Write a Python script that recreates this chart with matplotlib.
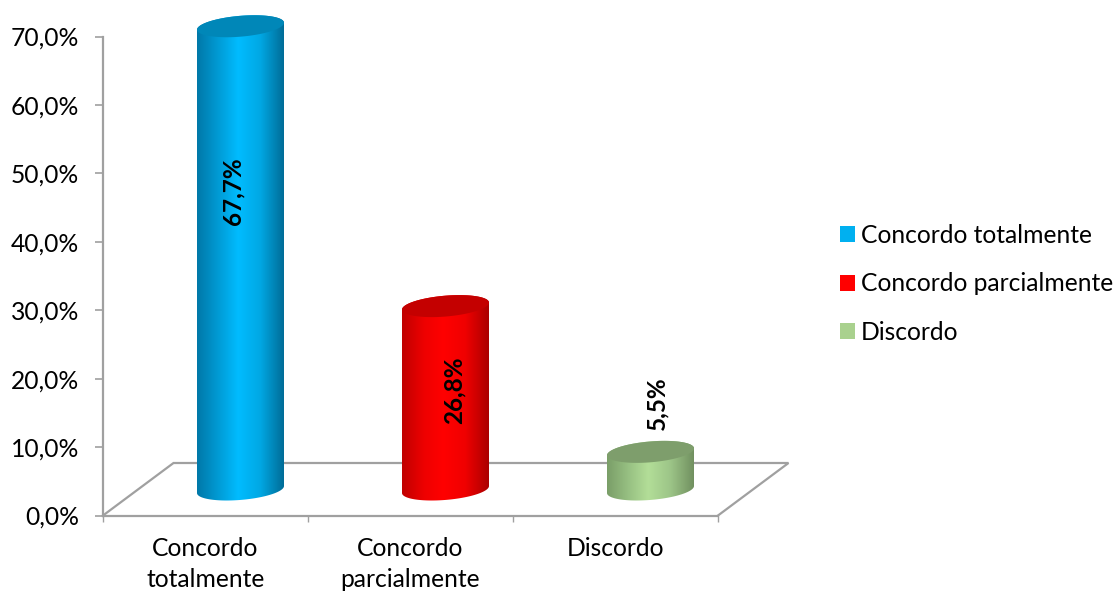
import numpy as np
import matplotlib
matplotlib.use("Agg")
import matplotlib.pyplot as plt
from matplotlib.colors import LinearSegmentedColormap
from matplotlib.patches import Patch, Polygon

categories = ["Concordo totalmente", "Concordo parcialmente", "Discordo"]
axis_labels = ["Concordo\ntotalmente", "Concordo\nparcialmente", "Discordo"]
values = [67.7, 26.8, 5.5]
y_ticks = [0, 10, 20, 30, 40, 50, 60, 70]

# ---- styling and layout ----
plt.rcParams["font.family"] = ["Lato", "DejaVu Sans"]
W, H = 1118, 593
FS = 17.7
GREY = "#A0A0A0"
legend_colors = ["#00B0F0", "#FF0000", "#A9D18E"]
top_colors = ["#0087B8", "#C40000", "#7E9E6C"]
body_stops = [
    ["#0078A8", "#009CD6", "#00BCFF", "#00A8E4", "#006A94"],
    ["#C00000", "#EE0000", "#FF0000", "#F00000", "#A80000"],
    ["#7A9E68", "#98C183", "#B3DE98", "#9DC588", "#6F8E5E"],
]
label_pos = [(-0.035, 47.4), (0.04, 18.3), (0.03, 16.4)]   # offsets from bar centre x, y position

fig = plt.figure(figsize=(W / 100, H / 100), dpi=100)
ax = fig.add_axes([103 / W, 1 - 515.5 / H, 615 / W, 479 / H])
XMIN, XMAX, YMIN, YMAX = -0.5, 2.5, 0, 70
px_x = (XMAX - XMIN) / 615      # data units per pixel
px_y = (YMAX - YMIN) / 479

depth_x, depth_y = 35 * px_x, 26 * px_y     # centre of the bars on the floor
a, b, theta = 43.65, 10.4, np.radians(4.87)  # ellipse, in pixels


def ell(cx, cy, t):
    return (cx + (a * np.cos(t) * np.cos(theta) - b * np.sin(t) * np.sin(theta)) * px_x,
            cy + (a * np.cos(t) * np.sin(theta) + b * np.sin(t) * np.cos(theta)) * px_y)


# floor
back_y = 52.5 * px_y
floor_dx = 70.5 * px_x
ax.plot([XMIN, XMIN + floor_dx, XMAX + floor_dx, XMAX],
        [YMIN, back_y, back_y, YMIN],
        color=GREY, lw=1.6, clip_on=False, zorder=1, solid_joinstyle="miter")

# cylinders
t0 = np.arctan2(-b * np.sin(theta), a * np.cos(theta))
for i, v in enumerate(values):
    cx = i + depth_x
    base, top = depth_y, v + depth_y
    tu = np.linspace(t0, t0 + np.pi, 80)
    tl = np.linspace(t0 + np.pi, t0 + 2 * np.pi, 80)
    xu, yu = ell(cx, top, tu)
    xl, yl = ell(cx, base, tl)
    body = Polygon(np.c_[np.r_[xu, xl], np.r_[yu, yl]], closed=True, facecolor="none",
                   edgecolor="none", clip_on=False, zorder=2)
    ax.add_patch(body)
    cmap = LinearSegmentedColormap.from_list(
        f"c{i}", list(zip([0, 0.25, 0.47, 0.72, 1], body_stops[i])))
    grad = np.linspace(0, 1, 256)[None, :]
    half = np.hypot(a * np.cos(theta), b * np.sin(theta)) * px_x
    im = ax.imshow(grad, cmap=cmap, aspect="auto", interpolation="bilinear", zorder=2,
                   extent=[cx - half, cx + half, base - 15 * px_y, top + 15 * px_y])
    im.set_clip_box(fig.bbox)
    im.set_clip_path(body)
    xt, yt = ell(cx, top, np.linspace(0, 2 * np.pi, 160))
    ax.add_patch(Polygon(np.c_[xt, yt], closed=True, facecolor=top_colors[i],
                         edgecolor="none", clip_on=False, zorder=3))
    dx, ly = label_pos[i]
    ax.text(cx + dx, ly, f"{v:.1f}%".replace(".", ","), rotation=90, ha="center", va="center",
            fontsize=17.5, fontweight="bold", color="black", zorder=4, clip_on=False)

# axes
ax.set_xlim(XMIN, XMAX)
ax.set_ylim(YMIN, YMAX)
ax.patch.set_alpha(0)
for s in ("top", "right"):
    ax.spines[s].set_visible(False)
for s in ("left", "bottom"):
    ax.spines[s].set_color(GREY)
    ax.spines[s].set_linewidth(1.6)
ax.set_yticks(y_ticks)
ax.set_yticklabels([f"{t:.1f}%".replace(".", ",") for t in y_ticks], fontsize=FS)
ax.tick_params(axis="y", length=5.8, width=1.2, color=GREY, pad=11.5, labelcolor="black")
ax.set_xticks(np.arange(XMIN, XMAX + 0.5, 1))
ax.set_xticklabels([])
ax.set_xticks(range(len(axis_labels)), axis_labels, minor=True, fontsize=FS, linespacing=1.42)
ax.tick_params(axis="x", which="major", length=4.5, width=1.0, color=GREY)
ax.tick_params(axis="x", which="minor", length=0, pad=15.5, labelcolor="black")

handles = [Patch(facecolor=c, edgecolor="none", label=n) for c, n in zip(legend_colors, categories)]
fig.legend(handles=handles, loc="upper left", bbox_to_anchor=(840 / W, 1 - 224 / H),
           frameon=False, fontsize=FS, borderpad=0, borderaxespad=0,
           handlelength=0.61, handleheight=0.61, handletextpad=0.25, labelspacing=1.03)

fig.savefig("out.png", dpi=100, facecolor="white")
